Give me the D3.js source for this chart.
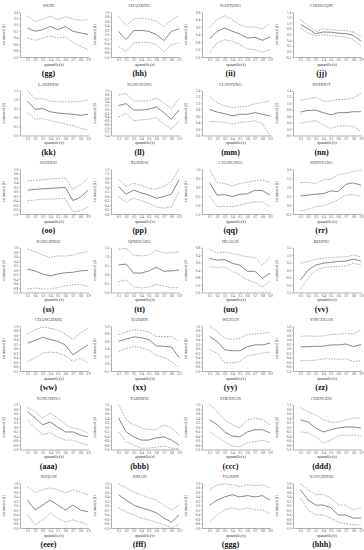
<!DOCTYPE html>
<html>
<head>
<meta charset="utf-8">
<script src="https://cdn.jsdelivr.net/npm/d3@7"></script>
<style>
  body { margin: 0; background: #fff; }
  svg text { font-family: "Liberation Serif", "DejaVu Serif", serif; }
</style>
</head>
<body>
<div id="chart"></div>
<script>
// city names and panel tags
const cities = [
  'WUXI', 'SHAOXING', 'NANTONG', 'CHONGQIN',
  'LANZHOU', 'NANCHANG', 'LIANYUNG', 'HOHHOT',
  'SUZHOU', 'XUZHOU', 'CHANGSHA', 'SHENYANG',
  'HANGZHOU', 'QINHUANG', 'HUAIAN', 'BEIJING',
  'CHANGZHOU', 'HANBIN', 'WUHAN', 'YINCHUAN',
  'YANCHENG', 'TAIZHOU', 'ZHENJIAN', 'CHENGDU',
  'SUQIAN', 'JIXIAN', 'TIANJIN', 'YANGZHOU'
];
const tags = [
  '(gg)', '(hh)', '(ii)', '(jj)',
  '(kk)', '(ll)', '(mm)', '(nn)',
  '(oo)', '(pp)', '(qq)', '(rr)',
  '(ss)', '(tt)', '(uu)', '(vv)',
  '(ww)', '(xx)', '(yy)', '(zz)',
  '(aaa)', '(bbb)', '(ccc)', '(ddd)',
  '(eee)', '(fff)', '(ggg)', '(hhh)'
];
const quantiles = [0.1, 0.2, 0.3, 0.4, 0.5, 0.6, 0.7, 0.8, 0.9];

// y axis range and tick step of each panel
const yDomains = [
  [-1.0, 0.4], [-1.0, 1.0], [-1.6, 0.8], [-0.2, 1.4],
  [-1.0, 1.5], [-1.4, 1.0], [0.0, 1.4], [0.0, 1.4],
  [-1.0, 1.0], [-0.8, 1.2], [-1.5, 1.0], [-0.5, 2.0],
  [-1.0, 1.0], [-1.0, 1.5], [-1.6, 0.8], [-1.5, 1.5],
  [-1.0, 1.0], [-0.2, 1.0], [-1.0, 1.0], [-1.0, 1.0],
  [-1.0, 1.0], [-1.0, 1.0], [-1.0, 1.0], [-1.0, 1.0],
  [-1.0, 1.0], [-1.0, 1.0], [-1.0, 1.0], [-1.0, 1.0]
];
const yTickSteps = [
  0.2, 0.2, 0.4, 0.2,
  0.5, 0.2, 0.2, 0.2,
  0.2, 0.2, 0.5, 0.5,
  0.2, 0.5, 0.4, 0.5,
  0.2, 0.2, 0.2, 0.2,
  0.2, 0.2, 0.2, 0.2,
  0.2, 0.2, 0.2, 0.2
];

// estimated beta1 (solid line)
const estimate = [
  [-0.10, -0.20, -0.15, -0.05, -0.15, -0.05, -0.20, -0.25, -0.30],
  [0.14, -0.23, 0.17, 0.18, 0.14, 0.00, -0.27, 0.14, 0.25],
  [-0.64, -0.23, -0.05, -0.23, -0.37, -0.59, -0.55, -0.71, -0.53],
  [0.95, 0.80, 0.63, 0.69, 0.68, 0.65, 0.63, 0.57, 0.36],
  [0.90, 0.45, 0.50, 0.32, 0.25, 0.21, 0.18, 0.12, 0.18],
  [0.20, 0.30, -0.04, -0.04, 0.00, 0.12, -0.18, -0.53, -0.04],
  [0.81, 0.73, 0.68, 0.61, 0.66, 0.66, 0.71, 0.66, 0.61],
  [0.73, 0.78, 0.79, 0.71, 0.64, 0.71, 0.71, 0.74, 0.74],
  [0.06, 0.10, 0.12, 0.14, 0.16, 0.18, -0.40, -0.26, 0.06],
  [0.42, 0.08, 0.26, 0.14, 0.04, -0.10, -0.02, 0.08, 0.72],
  [0.25, -0.45, -0.43, -0.53, -0.40, -0.38, -0.18, -0.20, -0.45],
  [0.50, 0.55, 0.60, 0.63, 0.78, 0.75, 1.15, 1.23, 1.10],
  [0.04, -0.04, -0.18, -0.26, -0.18, -0.12, -0.10, -0.04, -0.02],
  [0.53, 0.58, 0.08, 0.08, 0.20, 0.40, 0.18, 0.20, 0.25],
  [0.22, 0.13, 0.15, -0.04, -0.14, -0.47, -0.47, -0.83, -0.57],
  [-0.66, 0.00, 0.33, 0.45, 0.51, 0.57, 0.60, 0.72, 0.60],
  [0.24, 0.36, 0.50, 0.40, 0.32, 0.16, -0.28, -0.06, 0.16],
  [0.59, 0.65, 0.71, 0.69, 0.64, 0.47, 0.46, 0.44, 0.16],
  [0.54, 0.32, -0.06, -0.10, -0.10, 0.08, 0.16, 0.16, 0.24],
  [0.08, 0.08, 0.10, 0.10, 0.16, 0.16, 0.20, 0.08, 0.18],
  [0.68, 0.40, 0.10, 0.22, 0.00, -0.22, -0.22, -0.36, -0.44],
  [0.40, -0.22, -0.44, -0.58, -0.58, -0.48, -0.44, -0.58, -0.80],
  [0.32, 0.10, -0.22, -0.40, -0.44, -0.22, -0.12, -0.12, -0.26],
  [0.32, 0.22, -0.04, -0.22, -0.12, -0.04, 0.00, 0.00, -0.04],
  [0.24, -0.20, 0.02, 0.24, 0.02, -0.20, 0.02, -0.20, -0.28],
  [0.48, 0.24, 0.02, -0.10, -0.20, -0.32, -0.56, -0.74, -0.42],
  [0.02, 0.24, 0.38, 0.48, 0.38, 0.44, 0.38, 0.44, 0.24],
  [0.70, 0.24, 0.02, 0.02, -0.10, -0.42, -0.42, -0.56, -0.56]
];

// upper confidence bound (dashed)
const upper = [
  [0.27, 0.10, 0.18, 0.27, 0.16, 0.25, 0.18, 0.14, 0.16],
  [0.80, 0.39, 0.69, 0.73, 0.69, 0.59, 0.36, 0.63, 0.84],
  [-0.05, 0.39, 0.60, 0.39, 0.12, 0.00, 0.00, -0.11, 0.18],
  [1.13, 0.91, 0.71, 0.80, 0.77, 0.75, 0.74, 0.69, 0.53],
  [1.50, 1.03, 1.05, 0.90, 0.87, 0.87, 0.87, 0.90, 0.99],
  [0.77, 0.83, 0.46, 0.43, 0.46, 0.60, 0.34, 0.03, 0.57],
  [1.22, 1.02, 0.93, 0.86, 0.89, 0.91, 0.99, 1.03, 1.07],
  [1.10, 1.14, 1.19, 1.07, 1.07, 1.12, 1.12, 1.17, 1.32],
  [0.48, 0.50, 0.52, 0.56, 0.58, 0.60, 0.10, 0.28, 0.60],
  [0.74, 0.42, 0.56, 0.48, 0.34, 0.30, 0.44, 0.64, 1.20],
  [0.95, 0.25, 0.20, 0.05, 0.20, 0.25, 0.35, 0.40, 0.25],
  [1.25, 1.25, 1.20, 1.40, 1.43, 1.68, 1.75, 1.88, 1.93],
  [0.92, 0.82, 0.66, 0.56, 0.62, 0.62, 0.66, 0.76, 0.82],
  [1.40, 1.45, 1.08, 1.03, 1.08, 1.35, 1.18, 1.23, 1.25],
  [0.70, 0.51, 0.56, 0.49, 0.39, 0.30, 0.27, -0.14, 0.30],
  [0.45, 0.57, 0.72, 0.78, 0.84, 0.87, 0.87, 0.99, 0.87],
  [0.64, 0.83, 0.96, 0.90, 0.82, 0.64, 0.40, 0.70, 0.90],
  [0.77, 0.84, 0.90, 0.88, 0.84, 0.72, 0.72, 0.72, 0.59],
  [1.00, 0.76, 0.46, 0.40, 0.46, 0.62, 0.64, 0.68, 0.72],
  [0.54, 0.56, 0.54, 0.56, 0.62, 0.64, 0.68, 0.64, 0.84],
  [0.86, 0.68, 0.40, 0.62, 0.40, 0.10, -0.04, -0.12, -0.26],
  [1.00, 0.32, 0.10, -0.04, -0.12, -0.12, 0.10, -0.04, -0.36],
  [1.00, 0.68, 0.32, 0.10, -0.04, 0.32, 0.40, 0.32, 0.10],
  [0.86, 0.68, 0.54, 0.32, 0.22, 0.22, 0.32, 0.40, 0.40],
  [0.84, 0.56, 0.70, 0.78, 0.70, 0.56, 0.70, 0.60, 0.48],
  [0.96, 0.78, 0.60, 0.48, 0.34, 0.24, 0.02, -0.20, 0.02],
  [0.70, 0.92, 0.96, 0.92, 0.84, 0.92, 0.88, 0.92, 0.78],
  [0.96, 0.70, 0.48, 0.48, 0.34, 0.02, 0.02, -0.20, -0.10]
];

// lower confidence bound (dashed)
const lower = [
  [-0.41, -0.48, -0.41, -0.34, -0.41, -0.38, -0.54, -0.67, -0.77],
  [-0.53, -0.75, -0.38, -0.35, -0.35, -0.45, -0.78, -0.45, -0.38],
  [-1.35, -0.85, -0.68, -0.76, -0.94, -1.17, -1.21, -1.35, -1.21],
  [0.83, 0.65, 0.56, 0.59, 0.57, 0.53, 0.51, 0.42, 0.18],
  [0.27, -0.09, -0.06, -0.18, -0.27, -0.36, -0.45, -0.60, -0.69],
  [-0.41, -0.23, -0.62, -0.57, -0.53, -0.44, -0.79, -1.05, -0.62],
  [0.43, 0.43, 0.41, 0.36, 0.41, 0.43, 0.46, 0.36, 0.00],
  [0.38, 0.43, 0.46, 0.33, 0.22, 0.30, 0.30, 0.28, 0.12],
  [-0.40, -0.38, -0.34, -0.34, -0.32, -0.32, -0.90, -0.86, -0.68],
  [-0.02, -0.28, -0.10, -0.20, -0.32, -0.48, -0.54, -0.48, 0.20],
  [-0.50, -1.10, -1.08, -1.10, -1.00, -0.90, -0.83, -0.83, -1.10],
  [-0.33, -0.23, -0.10, -0.03, 0.10, 0.30, 0.55, 0.58, 0.48],
  [-0.84, -0.80, -0.84, -0.84, -0.78, -0.70, -0.66, -0.64, -0.74],
  [-0.40, -0.30, -0.68, -0.75, -0.70, -0.55, -0.65, -0.73, -0.73],
  [-0.23, -0.26, -0.23, -0.47, -0.66, -0.93, -1.07, -1.31, -1.00],
  [-1.26, -0.54, 0.00, 0.15, 0.21, 0.24, 0.27, 0.45, 0.33],
  [-0.58, -0.42, -0.20, -0.16, -0.20, -0.32, -0.58, -0.42, -0.64],
  [0.32, 0.40, 0.45, 0.42, 0.36, 0.21, 0.16, 0.05, -0.10],
  [-0.06, -0.20, -0.64, -0.64, -0.58, -0.32, -0.28, -0.20, -0.16],
  [-0.54, -0.54, -0.52, -0.46, -0.46, -0.48, -0.46, -0.58, -0.54],
  [0.32, -0.04, -0.34, -0.26, -0.44, -0.58, -0.58, -0.72, -0.80],
  [-0.22, -0.66, -0.80, -0.94, -0.94, -0.90, -0.84, -0.94, -0.98],
  [-0.22, -0.44, -0.66, -0.84, -0.88, -0.70, -0.66, -0.58, -0.70],
  [-0.22, -0.26, -0.44, -0.72, -0.58, -0.40, -0.36, -0.36, -0.40],
  [-0.42, -0.86, -0.64, -0.34, -0.56, -0.74, -0.64, -0.74, -0.86],
  [-0.10, -0.28, -0.42, -0.56, -0.64, -0.74, -0.86, -1.00, -0.82],
  [-0.74, -0.42, -0.20, -0.10, -0.20, -0.10, -0.20, -0.20, -0.38],
  [0.34, -0.20, -0.42, -0.42, -0.56, -0.74, -0.82, -0.86, -0.86]
];

const width = 364, height = 550;
const cellW = 91, cellH = 78.5;
const plot = {left: 20, right: 88, top: 12, bottom: 57};

const svg = d3.select('#chart').append('svg')
    .attr('width', width)
    .attr('height', height);

const fmt = d => d3.format('.1f')(d).replace('\u2212', '-');

cities.forEach((city, i) => {
  const col = i % 4;
  const row = Math.floor(i / 4);
  const g = svg.append('g')
      .attr('transform', `translate(${col * cellW},${row * cellH})`);

  const x = d3.scaleLinear()
      .domain([0, 0.9])
      .range([plot.left, plot.right]);
  const y = d3.scaleLinear()
      .domain(yDomains[i])
      .range([plot.bottom, plot.top]);

  const step = yTickSteps[i];
  const yTicks = d3.range(yDomains[i][0], yDomains[i][1] + step / 2, step);

  const yAxis = g.append('g')
      .attr('transform', `translate(${plot.left},0)`)
      .call(d3.axisLeft(y).tickValues(yTicks).tickFormat(fmt)
        .tickSize(1).tickSizeOuter(0).tickPadding(1));
  const xAxis = g.append('g')
      .attr('transform', `translate(0,${plot.bottom})`)
      .call(d3.axisBottom(x).tickValues(quantiles).tickFormat(d3.format('.1f'))
        .tickSize(1).tickSizeOuter(0).tickPadding(1));

  [yAxis, xAxis].forEach(a => {
    a.select('.domain').attr('stroke', '#666').attr('stroke-width', 0.5);
    a.selectAll('.tick line').attr('stroke', '#666').attr('stroke-width', 0.4);
    a.selectAll('.tick text')
        .attr('font-size', 3.2)
        .attr('fill', '#444')
        .attr('font-family', 'Liberation Serif, serif');
  });

  const line = d3.line()
      .x((d, j) => x(quantiles[j]))
      .y(d => y(d));

  g.append('path')
      .datum(upper[i])
      .attr('fill', 'none')
      .attr('stroke', '#8a8a8a')
      .attr('stroke-width', 0.7)
      .attr('stroke-dasharray', '1.6,1.2')
      .attr('d', line);
  g.append('path')
      .datum(lower[i])
      .attr('fill', 'none')
      .attr('stroke', '#8a8a8a')
      .attr('stroke-width', 0.7)
      .attr('stroke-dasharray', '1.6,1.2')
      .attr('d', line);
  g.append('path')
      .datum(estimate[i])
      .attr('fill', 'none')
      .attr('stroke', '#555')
      .attr('stroke-width', 0.7)
      .attr('d', line);

  g.append('text')
      .attr('x', cellW / 2 + 3)
      .attr('y', 7)
      .attr('text-anchor', 'middle')
      .attr('font-size', 4.3)
      .attr('fill', '#444')
      .text(city);

  g.append('text')
      .attr('transform', `translate(5,${(plot.top + plot.bottom) / 2}) rotate(-90)`)
      .attr('text-anchor', 'middle')
      .attr('font-size', 4.2)
      .attr('fill', '#444')
      .text('estimated \u03b21');

  g.append('text')
      .attr('x', (plot.left + plot.right) / 2)
      .attr('y', 65.5)
      .attr('text-anchor', 'middle')
      .attr('font-size', 4.6)
      .attr('fill', '#333')
      .text('quantile(\u03c4)');

  g.append('text')
      .attr('x', cellW / 2 + 3)
      .attr('y', 76)
      .attr('text-anchor', 'middle')
      .attr('font-size', 8)
      .attr('font-weight', 'bold')
      .attr('fill', '#111')
      .text(tags[i]);
});
</script>
</body>
</html>
